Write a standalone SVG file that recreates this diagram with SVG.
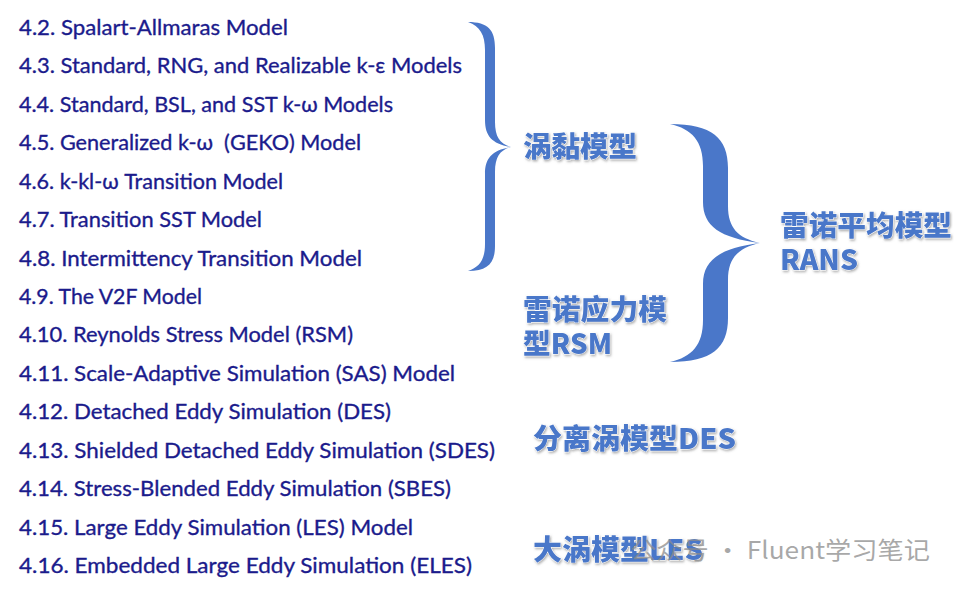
<svg xmlns="http://www.w3.org/2000/svg" width="962" height="589" viewBox="0 0 962 589">
<defs>
<filter id="sh" x="-10%" y="-20%" width="120%" height="150%">
<feDropShadow dx="1" dy="1.5" stdDeviation="0.9" flood-color="#7a7a7a" flood-opacity="0.6"/>
</filter>
</defs>
<style>
.item{font-family:Lato,"Liberation Sans","Noto Sans",sans-serif;font-size:22px;fill:#1b1b8c;stroke:#1b1b8c;stroke-width:0.35px}
.lab{font-family:"Noto Sans CJK SC",sans-serif;font-weight:900;font-size:28px;fill:#4a77c9;stroke:#ffffff;stroke-width:0.8px;paint-order:stroke;filter:url(#sh)}
.brace{fill:#4a77c9;stroke:none}
.wm{font-family:"Noto Sans CJK SC","Noto Sans",sans-serif;font-size:24px;fill:#8c8c8c;fill-opacity:0.75}
</style>
<rect width="962" height="589" fill="#ffffff"/>
<g id="list">
<g id="n42"><text class="item" x="19" y="35" textLength="269" lengthAdjust="spacingAndGlyphs">4.2. Spalart-Allmaras Model</text></g>
<g id="n43"><text class="item" x="19" y="73.4" textLength="443" lengthAdjust="spacingAndGlyphs">4.3. Standard, RNG, and Realizable k-ε Models</text></g>
<g id="n44"><text class="item" x="19" y="111.9" textLength="374" lengthAdjust="spacingAndGlyphs">4.4. Standard, BSL, and SST k-ω Models</text></g>
<g id="n45"><text class="item" x="19" y="150.3" textLength="342" lengthAdjust="spacingAndGlyphs">4.5. Generalized k-ω &#160;(GEKO) Model</text></g>
<g id="n46"><text class="item" x="19" y="188.7" textLength="264" lengthAdjust="spacingAndGlyphs">4.6. k-kl-ω Transition Model</text></g>
<g id="n47"><text class="item" x="19" y="227.2" textLength="243" lengthAdjust="spacingAndGlyphs">4.7. Transition SST Model</text></g>
<g id="n48"><text class="item" x="19" y="265.6" textLength="343" lengthAdjust="spacingAndGlyphs">4.8. Intermittency Transition Model</text></g>
<g id="n49"><text class="item" x="19" y="304" textLength="183" lengthAdjust="spacingAndGlyphs">4.9. The V2F Model</text></g>
<g id="n410"><text class="item" x="19" y="342.4" textLength="334" lengthAdjust="spacingAndGlyphs">4.10. Reynolds Stress Model (RSM)</text></g>
<g id="n411"><text class="item" x="19" y="380.9" textLength="436" lengthAdjust="spacingAndGlyphs">4.11. Scale-Adaptive Simulation (SAS) Model</text></g>
<g id="n412"><text class="item" x="19" y="419.3" textLength="372" lengthAdjust="spacingAndGlyphs">4.12. Detached Eddy Simulation (DES)</text></g>
<g id="n413"><text class="item" x="19" y="457.7" textLength="476" lengthAdjust="spacingAndGlyphs">4.13. Shielded Detached Eddy Simulation (SDES)</text></g>
<g id="n414"><text class="item" x="19" y="496.2" textLength="432" lengthAdjust="spacingAndGlyphs">4.14. Stress-Blended Eddy Simulation (SBES)</text></g>
<g id="n415"><text class="item" x="19" y="534.6" textLength="394" lengthAdjust="spacingAndGlyphs">4.15. Large Eddy Simulation (LES) Model</text></g>
<g id="n416"><text class="item" x="19" y="573" textLength="453" lengthAdjust="spacingAndGlyphs">4.16. Embedded Large Eddy Simulation (ELES)</text></g>
</g>
<g id="connectors">
<path id="brace1" class="brace" d="M468,22 C488,22 495,30 495,48 L495,122 C495,137 500,144 511,147 C500,150 495,157 495,172 L495,246 C495,263 488,271 468,271 C480,267 485,259 485,244 L485,174 C485,158 492,150 511,147 C492,144 485,136 485,120 L485,50 C485,35 480,26 468,22 Z"/>
<path id="brace2" class="brace" d="M670,124 C712,124 728,138 728,168 L728,206 C728,228 738,238 760,243 C738,248 728,258 728,280 L728,318 C728,348 712,362 670,362 C692,357 703,345 703,320 L703,284 C703,260 720,248 760,243 C720,238 703,226 703,202 L703,166 C703,141 692,129 670,124 Z"/>
</g>
<g id="label-eddy-viscosity"><text class="lab" x="523" y="157" textLength="114" lengthAdjust="spacingAndGlyphs">涡黏模型</text></g>
<g id="label-rans"><text class="lab"><tspan x="780" y="236" textLength="172" lengthAdjust="spacingAndGlyphs">雷诺平均模型</tspan><tspan x="780" y="270" textLength="78" lengthAdjust="spacingAndGlyphs">RANS</tspan></text></g>
<g id="label-rsm"><text class="lab"><tspan x="523" y="320" textLength="144" lengthAdjust="spacingAndGlyphs">雷诺应力模</tspan><tspan x="523" y="354" textLength="89" lengthAdjust="spacingAndGlyphs">型RSM</tspan></text></g>
<g id="label-des"><text class="lab" x="533" y="449" textLength="203" lengthAdjust="spacingAndGlyphs">分离涡模型DES</text></g>
<g id="label-les"><text class="lab" x="533" y="560" textLength="170" lengthAdjust="spacingAndGlyphs">大涡模型LES</text></g>
<g id="watermark"><text class="wm" x="630" y="559" textLength="300" lengthAdjust="spacingAndGlyphs">公众号 · Fluent学习笔记</text></g>
</svg>
